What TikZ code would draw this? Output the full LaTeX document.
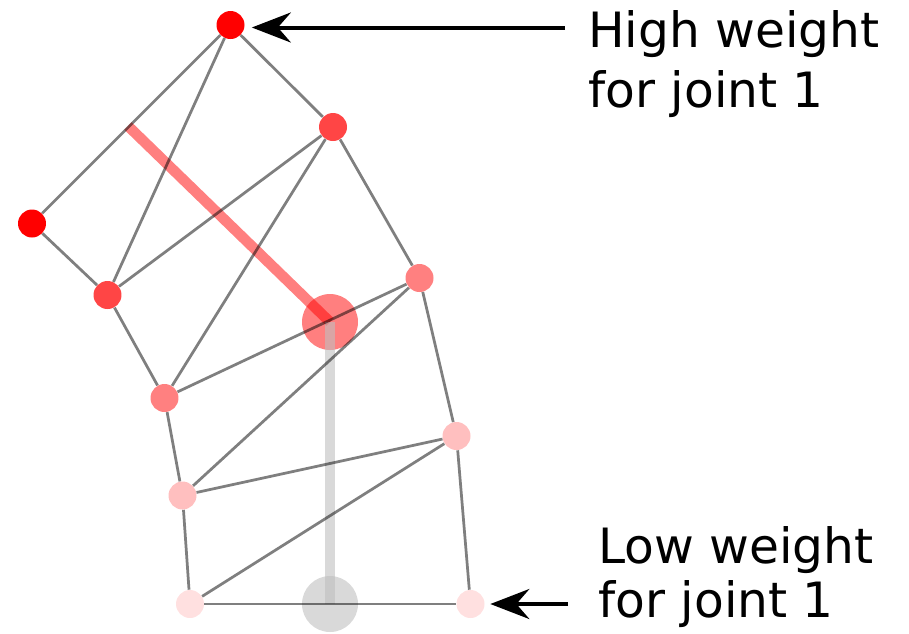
\documentclass[tikz,border=0pt]{standalone}
\usepackage{fontspec}
\setmainfont{DejaVu Sans}
\usetikzlibrary{arrows.meta}
\tikzset{
  vertex/.style={
    shape = circle,
    inner sep = 0pt,
    minimum size = 0.56cm,
    fill
  },
  joint/.style={
    shape = circle,
    inner sep = 0pt,
    minimum size = 1.12cm,
    fill opacity = 0.5
  },
  bone/.style={
    line width = 0.21cm,
    draw opacity = 0.5
  },
  edge/.style={
    draw = black,
    draw opacity = 0.5,
    line width = 0.055cm
  },
  pointer/.style={
    -{Stealth[length=0.78cm,width=0.6cm,inset=0.26cm]},
    line width = 0.08cm
  },
  every picture/.style = {
    x = 0.02cm,
    y = -0.02cm
  }
}

\begin{document}
\begin{tikzpicture}
    \useasboundingbox (0,0) rectangle (909,633);
    % the two joints and the bone between them
    \node[joint, fill=red] (j1) at (330,322) {};
    \node[joint, fill=black!25, fill opacity=0.6] (j2) at (330,604) {};
    \coordinate (tip) at (128,126);
    \draw[bone, red] (tip) -- (j1.center);
    \draw[bone, black!25, draw opacity=0.6] (j1.center) -- (j2.center);
    % mesh vertices, coloured by weight
    \node[vertex, red] (a) at (230.5,25) {};
    \node[vertex, red!73] (b) at (333,127) {};
    \node[vertex, red] (c) at (32,223.5) {};
    \node[vertex, red!73] (d) at (107.5,295) {};
    \node[vertex, red!50] (e) at (419.5,278) {};
    \node[vertex, red!50] (f) at (164.5,398) {};
    \node[vertex, red!25] (g) at (456.5,436) {};
    \node[vertex, red!25] (h) at (182.5,495.5) {};
    \node[vertex, red!12] (i) at (190,604) {};
    \node[vertex, red!12] (k) at (470.5,604) {};
    % mesh edges
    \draw[edge] (a) -- (b);
    \draw[edge] (a) -- (c);
    \draw[edge] (a) -- (d);
    \draw[edge] (c) -- (d);
    \draw[edge] (b) -- (d);
    \draw[edge] (b) -- (f);
    \draw[edge] (b) -- (e);
    \draw[edge] (d) -- (f);
    \draw[edge] (e) -- (f);
    \draw[edge] (e) -- (h);
    \draw[edge] (e) -- (g);
    \draw[edge] (f) -- (h);
    \draw[edge] (g) -- (h);
    \draw[edge] (g) -- (i);
    \draw[edge] (g) -- (k);
    \draw[edge] (h) -- (i);
    \draw[edge] (i) -- (k);
    % labels (base = last line)
    \node[anchor=base west, inner sep=0pt, align=left,
          font=\fontsize{27.7pt}{33.6pt}\selectfont] (high) at (588,107)
          {High weight\\for joint 1};
    \node[anchor=base west, inner sep=0pt, align=left,
          font=\fontsize{27.7pt}{30.7pt}\selectfont] (low) at (598,617)
          {Low weight\\for joint 1};
    \coordinate (hightail) at (565,27.5);
    \coordinate (lowtail) at (568,604);
    \draw[pointer, shorten >=0.14cm] (hightail) -- (hightail -| a.east);
    \draw[pointer, shorten >=0.11cm] (lowtail) -- (lowtail -| k.east);
\end{tikzpicture}
\end{document}
